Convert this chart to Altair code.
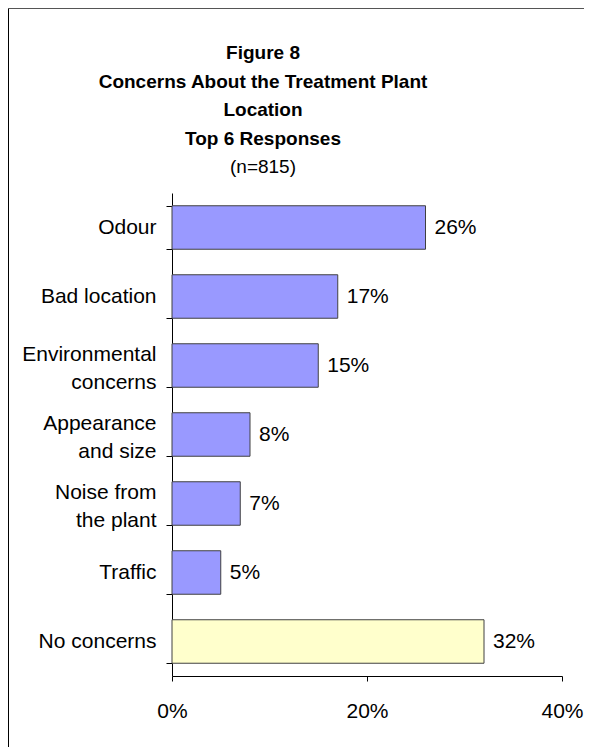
import altair as alt
import pandas as pd

categories = ["Odour", "Bad location", "Environmental\nconcerns", "Appearance\nand size",
              "Noise from\nthe plant", "Traffic", "No concerns"]
values = [0.26, 0.17, 0.15, 0.08, 0.07, 0.05, 0.32]
colors = ["#9999FF", "#9999FF", "#9999FF", "#9999FF", "#9999FF", "#9999FF", "#FFFFCC"]
x_ticks = [0, 0.2, 0.4]
title_lines = ["Figure 8", "Concerns About the Treatment Plant", "Location", "Top 6 Responses"]
subtitle = "(n=815)"

df = pd.DataFrame({"category": categories, "value": values})

FONT = "Liberation Sans"
FS = 21
LH = 28

y_enc = alt.Y("category:N", sort=categories, title=None,
              scale=alt.Scale(paddingInner=0.37, paddingOuter=0.185),
              axis=alt.Axis(tickBand="extent", labelExpr="split(datum.label, '\\n')",
                            labelFontSize=FS, labelLineHeight=LH, labelPadding=10,
                            labelOffset=alt.ExprRef("indexof(datum.label, '\\n') >= 0 ? -11 : 0"),
                            tickSize=6, labelColor="black", domainColor="black",
                            tickColor="black", labelFont=FONT, labelLimit=250))
x_enc = alt.X("value:Q", title=None,
              scale=alt.Scale(domain=[0, 0.4]),
              axis=alt.Axis(values=x_ticks, format=".0%", grid=False, labelFontSize=FS,
                            labelPadding=19, tickSize=5, labelColor="black",
                            domainColor="black", tickColor="black", labelFont=FONT,
                            labelFlush=False))

bars = alt.Chart(df).mark_bar(stroke="#404040", strokeWidth=1).encode(
    x=x_enc, y=y_enc,
    color=alt.Color("category:N", scale=alt.Scale(domain=categories, range=colors), legend=None),
)

labels = alt.Chart(df).mark_text(align="left", baseline="middle", dx=9, fontSize=FS,
                                 font=FONT, color="black").encode(
    x="value:Q", y=alt.Y("category:N", sort=categories),
    text=alt.Text("value:Q", format=".0%"),
)

one = pd.DataFrame({"f": [0]})
frame_top = alt.Chart(one).mark_rule(color="#555555", strokeWidth=1).encode(
    x=alt.value(-163.5), x2=alt.value(1000), y=alt.value(-184.5)
)
frame_left = alt.Chart(one).mark_rule(color="black", strokeWidth=1).encode(
    x=alt.value(-163.5), y=alt.value(-184.5), y2=alt.value(1000)
)

title_marks = []
for i, line in enumerate(title_lines):
    title_marks.append(
        alt.Chart(one).mark_text(text=line, font=FONT, fontSize=19, fontWeight="bold",
                                 color="black", align="center", baseline="middle").encode(
            x=alt.value(91), y=alt.value(-140 + 28.5 * i))
    )
sub_mark = alt.Chart(one).mark_text(text=subtitle, font=FONT, fontSize=19, color="black",
                                    align="center", baseline="middle").encode(
    x=alt.value(91), y=alt.value(-26))

chart = alt.layer(frame_top, frame_left, bars, labels, *title_marks, sub_mark).properties(
    width=390, height=483,
    autosize=alt.AutoSizeParams(type="none"),
    padding={"left": 164, "top": 185, "right": 22, "bottom": 71},
).configure_view(stroke=None)

chart.save("out.html", embed_options={"renderer": "svg", "actions": False})
